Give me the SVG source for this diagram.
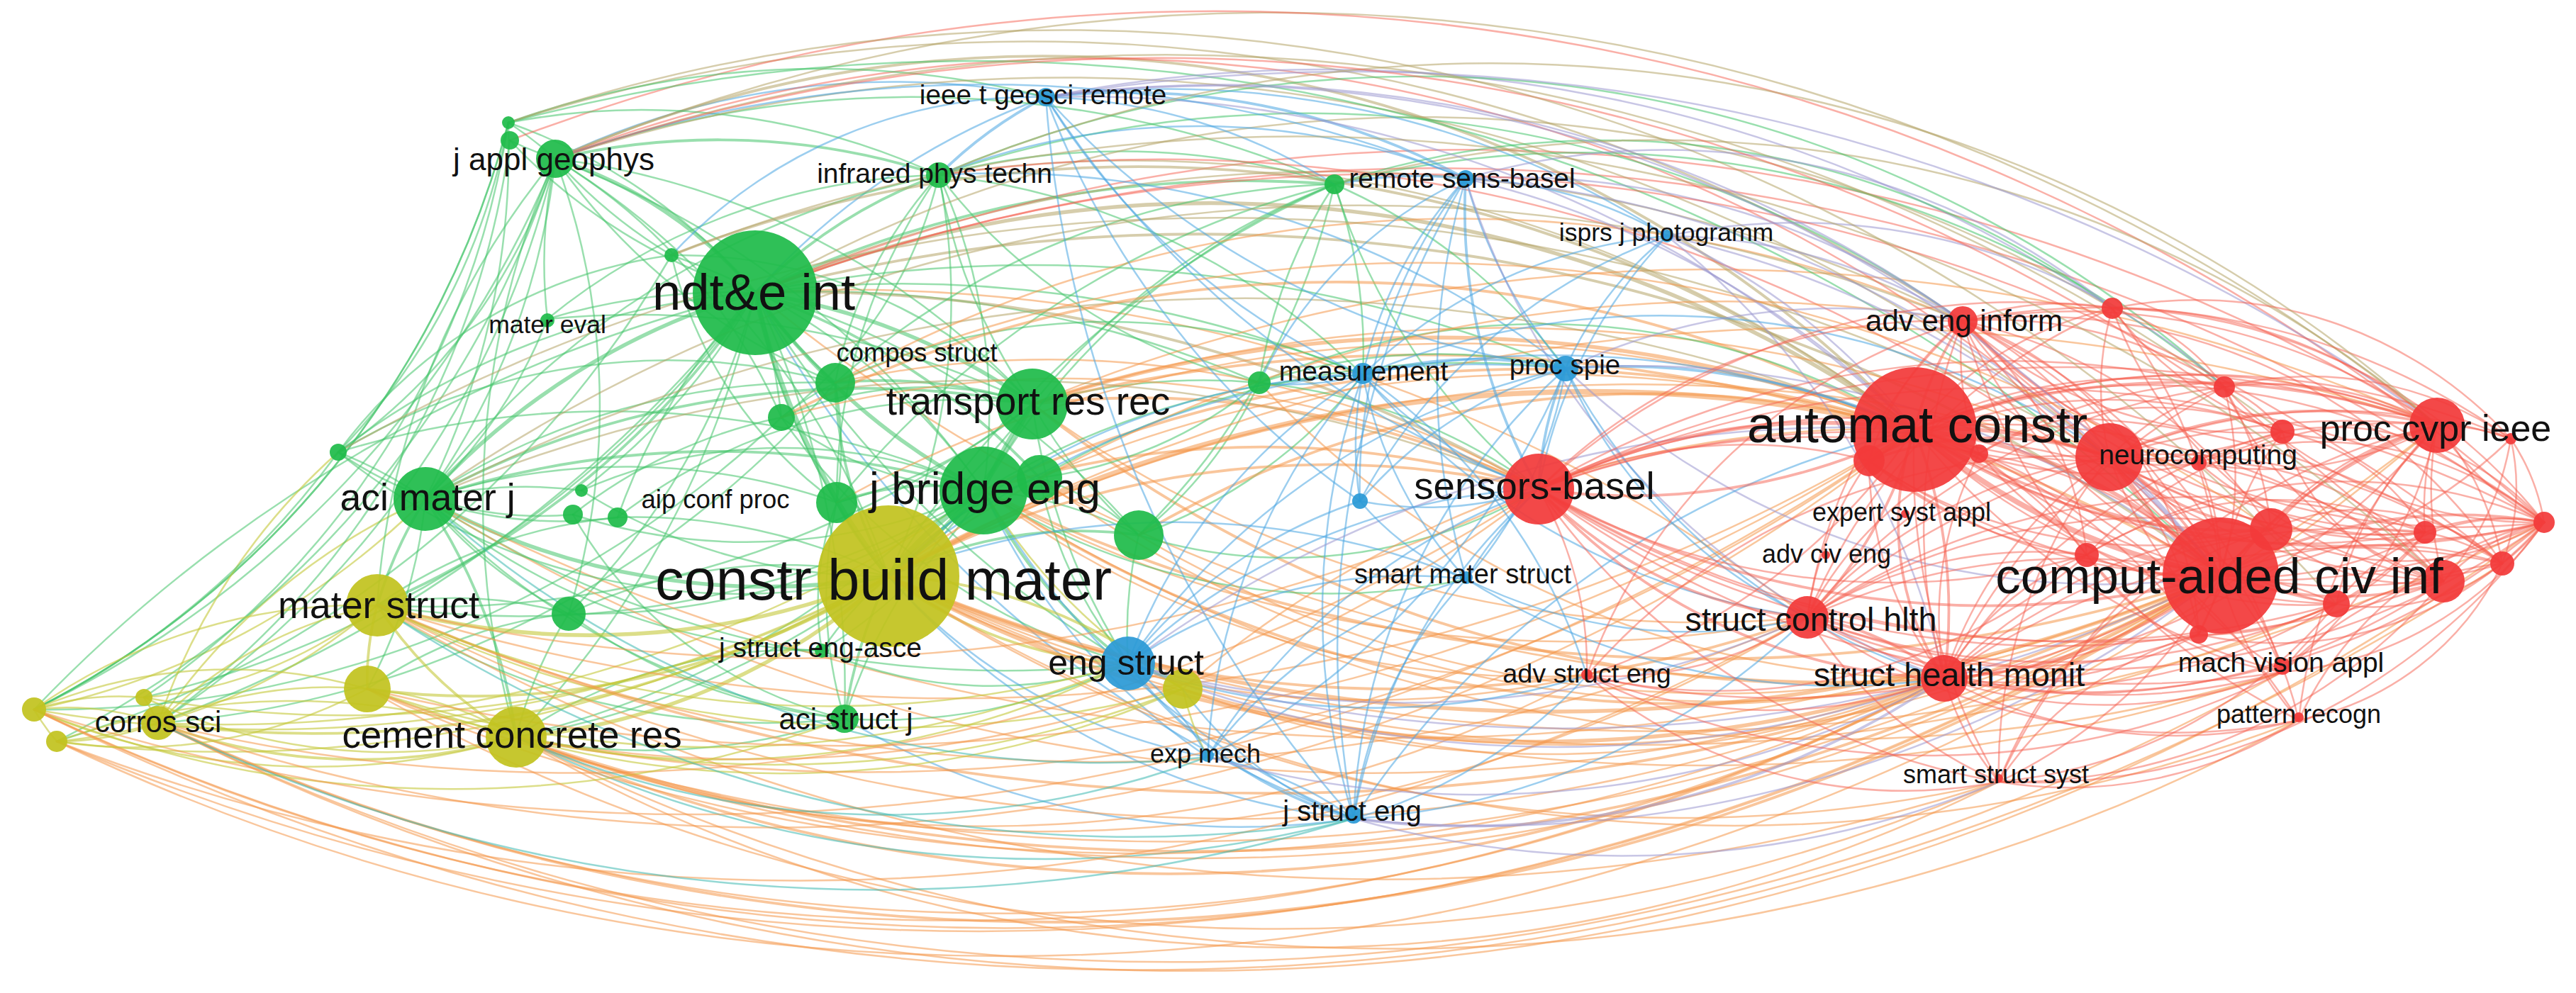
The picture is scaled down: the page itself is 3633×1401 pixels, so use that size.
<svg xmlns="http://www.w3.org/2000/svg" width="3633" height="1401" viewBox="0 0 3633 1401">
<style>
path{fill:none;stroke-linecap:round;stroke-width:2.5}
.g{stroke:#46c46c;stroke-opacity:.55}
.r{stroke:#f5604f;stroke-opacity:.5}
.b{stroke:#4aa6e2;stroke-opacity:.55}
.y{stroke:#c4c83a;stroke-opacity:.6}
.o{stroke:#f4984a;stroke-opacity:.55}
.t{stroke:#b4a468;stroke-opacity:.55}
.p{stroke:#9a98d0;stroke-opacity:.55}
.c{stroke:#3cb8b0;stroke-opacity:.55}
.w2{stroke-width:3.8}.w3{stroke-width:5.5}.w4{stroke-width:7.5}
.ng{fill:#1fbb4a;fill-opacity:.93}.nr{fill:#f23a3a;fill-opacity:.93}.nb{fill:#2b9ad6;fill-opacity:.93}.ny{fill:#c2c31f;fill-opacity:.93}
text{font-family:"Liberation Sans",Arial,sans-serif;fill:#111;text-anchor:middle}
</style>
<rect width="3633" height="1401" fill="#fff"/>
<g id="connectors">
<path class="g w3" d="M783 224A600 600 0 0 1 1065 413"/>
<path class="g" d="M717 173A800 800 0 0 1 1065 413"/>
<path class="g" d="M719 198A800 800 0 0 0 1065 413"/>
<path class="g" d="M772 450A900 900 0 0 1 1065 413"/>
<path class="g w3" d="M600 704A1000 1000 0 0 1 1065 413"/>
<path class="g" d="M477 638A1100 1100 0 0 1 1065 413"/>
<path class="g w2" d="M532 854A1200 1200 0 0 0 1065 413"/>
<path class="g w2" d="M1065 413A700 700 0 0 0 1178 540"/>
<path class="g w3" d="M1065 413A900 900 0 0 1 1456 570"/>
<path class="g w3" d="M1065 413A900 900 0 0 0 1387 692"/>
<path class="g w4" d="M1065 413A1000 1000 0 0 0 1253 813"/>
<path class="g w2" d="M1065 413A700 700 0 0 1 1324 247"/>
<path class="g" d="M1065 413A900 900 0 0 1 1102 589"/>
<path class="g" d="M1065 413A900 900 0 0 0 1180 709"/>
<path class="g w2" d="M1065 413A1000 1000 0 0 1 1466 674"/>
<path class="g" d="M1065 413A1100 1100 0 0 1 1606 755"/>
<path class="g" d="M802 866A1000 1000 0 0 0 1065 413"/>
<path class="g" d="M1065 413A1300 1300 0 0 1 1191 1014"/>
<path class="g" d="M1065 413A1600 1600 0 0 1 1776 540"/>
<path class="g w2" d="M1065 413A1600 1600 0 0 1 1882 260"/>
<path class="g" d="M1065 413A1500 1500 0 0 0 1591 936"/>
<path class="g" d="M820 692A900 900 0 0 0 1065 413"/>
<path class="g" d="M871 730A900 900 0 0 1 1065 413"/>
<path class="g" d="M728 1040A1300 1300 0 0 0 1065 413"/>
<path class="g" d="M223 1020A1900 1900 0 0 0 1065 413"/>
<path class="g" d="M48 1001A2100 2100 0 0 1 1065 413"/>
<path class="b" d="M1065 413A1000 1000 0 0 1 1475 137"/>
<path class="g" d="M1065 413A1700 1700 0 0 1 1922 529"/>
<path class="g" d="M1065 413A2000 2000 0 0 1 2208 520"/>
<path class="t w2" d="M1065 413A2100 2100 0 0 1 2170 690"/>
<path class="t w3" d="M1065 413A1700 1700 0 0 1 2700 606"/>
<path class="t w2" d="M1065 413A2400 2400 0 0 1 3132 812"/>
<path class="t" d="M1065 413A2000 2000 0 0 1 2768 453"/>
<path class="o" d="M1065 413A2200 2200 0 0 1 2549 871"/>
<path class="o" d="M1065 413A2400 2400 0 0 0 2742 957"/>
<path class="b" d="M1065 413A1600 1600 0 0 0 1909 1155"/>
<path class="r" d="M1065 413A2600 2600 0 0 1 3437 600"/>
<path class="r" d="M1065 413A2700 2700 0 0 1 3588 737"/>
<path class="g w2" d="M600 704A1300 1300 0 0 1 1456 570"/>
<path class="g" d="M783 224A1100 1100 0 0 1 1456 570"/>
<path class="g" d="M1324 247A800 800 0 0 0 1456 570"/>
<path class="g w3" d="M1387 692A600 600 0 0 1 1456 570"/>
<path class="g w3" d="M1253 813A700 700 0 0 0 1456 570"/>
<path class="g w2" d="M1178 540A700 700 0 0 1 1456 570"/>
<path class="g" d="M1180 709A700 700 0 0 0 1456 570"/>
<path class="g" d="M1456 570A700 700 0 0 0 1606 755"/>
<path class="g" d="M1456 570A900 900 0 0 1 1776 540"/>
<path class="g" d="M532 854A1400 1400 0 0 0 1456 570"/>
<path class="g" d="M728 1040A1300 1300 0 0 0 1456 570"/>
<path class="o w3" d="M1456 570A1800 1800 0 0 1 2700 606"/>
<path class="o w2" d="M1456 570A2200 2200 0 0 1 3132 812"/>
<path class="o w2" d="M1456 570A1300 1300 0 0 1 2170 690"/>
<path class="o w2" d="M1456 570A1800 1800 0 0 0 2742 957"/>
<path class="o" d="M1456 570A1600 1600 0 0 0 2549 871"/>
<path class="g" d="M1456 570A900 900 0 0 0 1591 936"/>
<path class="g" d="M1456 570A1000 1000 0 0 1 1882 260"/>
<path class="g" d="M772 450A1300 1300 0 0 1 1456 570"/>
<path class="o" d="M1456 570A2100 2100 0 0 1 2975 645"/>
<path class="o" d="M1456 570A2500 2500 0 0 1 3437 600"/>
<path class="g w2" d="M600 704A1300 1300 0 0 1 1387 692"/>
<path class="g" d="M477 638A1300 1300 0 0 1 1387 692"/>
<path class="g" d="M532 854A1300 1300 0 0 0 1387 692"/>
<path class="g" d="M728 1040A1200 1200 0 0 0 1387 692"/>
<path class="y" d="M223 1020A1900 1900 0 0 0 1387 692"/>
<path class="g" d="M783 224A1300 1300 0 0 1 1387 692"/>
<path class="g" d="M947 360A900 900 0 0 1 1387 692"/>
<path class="g w4" d="M1253 813A500 500 0 0 1 1387 692"/>
<path class="g w2" d="M1387 692A700 700 0 0 0 1591 936"/>
<path class="g" d="M1191 1014A800 800 0 0 1 1387 692"/>
<path class="g" d="M1159 918A700 700 0 0 0 1387 692"/>
<path class="g" d="M1387 692A600 600 0 0 1 1606 755"/>
<path class="g" d="M802 866A1000 1000 0 0 0 1387 692"/>
<path class="g" d="M1387 692A1100 1100 0 0 1 1922 529"/>
<path class="o w2" d="M1387 692A1300 1300 0 0 1 2170 690"/>
<path class="o w2" d="M1387 692A1800 1800 0 0 1 2700 606"/>
<path class="o w2" d="M1387 692A1800 1800 0 0 0 2742 957"/>
<path class="o" d="M1387 692A1700 1700 0 0 0 2549 871"/>
<path class="o w2" d="M1387 692A2300 2300 0 0 0 3132 812"/>
<path class="b" d="M1387 692A1100 1100 0 0 0 1909 1155"/>
<path class="b" d="M1387 692A900 900 0 0 0 1703 1068"/>
<path class="y" d="M1387 692A800 800 0 0 0 1668 972"/>
<path class="o" d="M1387 692A1300 1300 0 0 0 2238 953"/>
<path class="g" d="M600 704A1000 1000 0 0 0 783 224"/>
<path class="g" d="M600 704A1100 1100 0 0 0 717 173"/>
<path class="g" d="M600 704A700 700 0 0 0 772 450"/>
<path class="g" d="M477 638A600 600 0 0 1 600 704"/>
<path class="g w2" d="M532 854A600 600 0 0 1 600 704"/>
<path class="g" d="M518 972A700 700 0 0 0 600 704"/>
<path class="g w2" d="M600 704A800 800 0 0 1 728 1040"/>
<path class="y" d="M223 1020A900 900 0 0 1 600 704"/>
<path class="y" d="M48 1001A1100 1100 0 0 0 600 704"/>
<path class="g w3" d="M600 704A1000 1000 0 0 0 1253 813"/>
<path class="g" d="M600 704A600 600 0 0 0 802 866"/>
<path class="g" d="M600 704A1000 1000 0 0 1 1178 540"/>
<path class="g" d="M600 704A600 600 0 0 1 820 692"/>
<path class="g" d="M600 704A600 600 0 0 0 871 730"/>
<path class="g" d="M600 704A1000 1000 0 0 0 1191 1014"/>
<path class="g" d="M600 704A1500 1500 0 0 0 1591 936"/>
<path class="g" d="M600 704A1200 1200 0 0 1 1324 247"/>
<path class="g" d="M600 704A900 900 0 0 1 1180 709"/>
<path class="t" d="M600 704A2500 2500 0 0 1 2700 606"/>
<path class="o" d="M600 704A3000 3000 0 0 0 3132 812"/>
<path class="o" d="M600 704A2500 2500 0 0 0 2742 957"/>
<path class="t" d="M600 704A2000 2000 0 0 1 2170 690"/>
<path class="g" d="M717 173A500 500 0 0 1 783 224"/>
<path class="g" d="M719 198A500 500 0 0 0 783 224"/>
<path class="g w2" d="M783 224A1000 1000 0 0 1 1324 247"/>
<path class="g" d="M783 224A700 700 0 0 0 947 360"/>
<path class="g" d="M772 450A700 700 0 0 1 783 224"/>
<path class="g" d="M477 638A800 800 0 0 0 783 224"/>
<path class="g" d="M532 854A1100 1100 0 0 1 783 224"/>
<path class="g" d="M223 1020A1300 1300 0 0 0 783 224"/>
<path class="g" d="M48 1001A1500 1500 0 0 0 783 224"/>
<path class="g" d="M783 224A900 900 0 0 0 1178 540"/>
<path class="b" d="M783 224A1100 1100 0 0 1 1475 137"/>
<path class="g" d="M783 224A1500 1500 0 0 1 1882 260"/>
<path class="g" d="M783 224A1000 1000 0 0 1 802 866"/>
<path class="g" d="M783 224A800 800 0 0 1 1102 589"/>
<path class="g" d="M783 224A1100 1100 0 0 1 1253 813"/>
<path class="g" d="M728 1040A1200 1200 0 0 1 783 224"/>
<path class="t" d="M783 224A2600 2600 0 0 1 3437 600"/>
<path class="t w2" d="M783 224A1700 1700 0 0 1 2700 606"/>
<path class="r" d="M783 224A2100 2100 0 0 1 3132 812"/>
<path class="t" d="M717 173A2400 2400 0 0 1 2768 453"/>
<path class="r" d="M719 198A2800 2800 0 0 1 3588 737"/>
<path class="g" d="M717 173A1000 1000 0 0 1 1324 247"/>
<path class="g" d="M48 1001A1300 1300 0 0 0 717 173"/>
<path class="g" d="M477 638A900 900 0 0 0 717 173"/>
<path class="g" d="M717 173A1300 1300 0 0 1 1475 137"/>
<path class="g" d="M1102 589A600 600 0 0 0 1324 247"/>
<path class="g" d="M1178 540A600 600 0 0 1 1324 247"/>
<path class="g" d="M1324 247A800 800 0 0 1 1387 692"/>
<path class="g" d="M1253 813A900 900 0 0 0 1324 247"/>
<path class="g" d="M1180 709A800 800 0 0 1 1324 247"/>
<path class="b w2" d="M1324 247A600 600 0 0 1 1475 137"/>
<path class="g" d="M1324 247A1000 1000 0 0 1 1882 260"/>
<path class="g" d="M1324 247A1000 1000 0 0 1 1922 529"/>
<path class="b" d="M1324 247A1300 1300 0 0 1 2208 520"/>
<path class="g" d="M1324 247A800 800 0 0 0 1776 540"/>
<path class="g" d="M772 450A900 900 0 0 1 1324 247"/>
<path class="t" d="M1324 247A1800 1800 0 0 1 2700 606"/>
<path class="g w2" d="M1178 540A600 600 0 0 0 1253 813"/>
<path class="g" d="M1178 540A500 500 0 0 1 1180 709"/>
<path class="g" d="M1102 589A400 400 0 0 1 1178 540"/>
<path class="g" d="M518 972A600 600 0 0 1 802 866"/>
<path class="g" d="M728 1040A600 600 0 0 1 802 866"/>
<path class="g" d="M802 866A700 700 0 0 1 1253 813"/>
<path class="g" d="M802 866A800 800 0 0 0 1191 1014"/>
<path class="g" d="M532 854A600 600 0 0 1 802 866"/>
<path class="g" d="M1591 936A600 600 0 0 1 1606 755"/>
<path class="g" d="M1606 755A600 600 0 0 0 1776 540"/>
<path class="g" d="M1606 755A700 700 0 0 0 1922 529"/>
<path class="g w2" d="M1253 813A600 600 0 0 1 1606 755"/>
<path class="g" d="M1776 540A700 700 0 0 1 1882 260"/>
<path class="b" d="M1776 540A400 400 0 0 0 1922 529"/>
<path class="g" d="M1776 540A800 800 0 0 1 2208 520"/>
<path class="g" d="M1882 260A700 700 0 0 1 1922 529"/>
<path class="g" d="M1882 260A800 800 0 0 1 2208 520"/>
<path class="g" d="M1882 260A900 900 0 0 0 2170 690"/>
<path class="g" d="M1606 755A1000 1000 0 0 0 1882 260"/>
<path class="g" d="M1180 709A1300 1300 0 0 1 1882 260"/>
<path class="g" d="M1253 813A1400 1400 0 0 1 1882 260"/>
<path class="g" d="M1178 540A1100 1100 0 0 1 1882 260"/>
<path class="b w2" d="M1882 260A600 600 0 0 1 2067 252"/>
<path class="g w2" d="M1191 1014A700 700 0 0 1 1253 813"/>
<path class="g" d="M1191 1014A800 800 0 0 0 1591 936"/>
<path class="g" d="M728 1040A900 900 0 0 0 1191 1014"/>
<path class="g" d="M1180 709A600 600 0 0 0 1191 1014"/>
<path class="g" d="M532 854A1000 1000 0 0 0 1191 1014"/>
<path class="b" d="M1191 1014A1100 1100 0 0 0 1909 1155"/>
<path class="g" d="M820 692A800 800 0 0 0 1253 813"/>
<path class="g" d="M808 726A700 700 0 0 1 1102 589"/>
<path class="g" d="M871 730A800 800 0 0 1 1253 813"/>
<path class="g" d="M1159 918A500 500 0 0 1 1253 813"/>
<path class="g" d="M477 638A900 900 0 0 1 1178 540"/>
<path class="g" d="M477 638A900 900 0 0 0 1253 813"/>
<path class="g" d="M1466 674A600 600 0 0 0 1591 936"/>
<path class="g" d="M1253 813A500 500 0 0 1 1466 674"/>
<path class="g" d="M1466 674A1200 1200 0 0 1 2208 520"/>
<path class="o" d="M1466 674A1800 1800 0 0 1 2700 606"/>
<path class="g" d="M48 1001A1300 1300 0 0 0 717 173"/>
<path class="g" d="M223 1020A1200 1200 0 0 0 719 198"/>
<path class="g" d="M80 1046A1400 1400 0 0 0 783 224"/>
<path class="g" d="M203 984A1200 1200 0 0 0 717 173"/>
<path class="y" d="M223 1020A900 900 0 0 1 477 638"/>
<path class="g" d="M48 1001A1200 1200 0 0 0 477 638"/>
<path class="g" d="M80 1046A1500 1500 0 0 0 947 360"/>
<path class="g" d="M48 1001A1500 1500 0 0 0 1102 589"/>
<path class="g" d="M223 1020A1400 1400 0 0 0 1178 540"/>
<path class="g" d="M203 984A1500 1500 0 0 0 1065 413"/>
<path class="g" d="M477 638A700 700 0 0 1 947 360"/>
<path class="g" d="M820 692A700 700 0 0 1 1387 692"/>
<path class="g" d="M808 726A800 800 0 0 0 1387 692"/>
<path class="g" d="M871 730A800 800 0 0 1 1456 570"/>
<path class="g" d="M808 726A600 600 0 0 0 1191 1014"/>
<path class="g" d="M532 854A700 700 0 0 1 871 730"/>
<path class="g" d="M477 638A500 500 0 0 0 808 726"/>
<path class="g" d="M947 360A600 600 0 0 0 1180 709"/>
<path class="g" d="M947 360A700 700 0 0 1 1456 570"/>
<path class="g" d="M1102 589A500 500 0 0 0 1387 692"/>
<path class="g" d="M1102 589A500 500 0 0 1 1456 570"/>
<path class="g w2" d="M1180 709A400 400 0 0 1 1387 692"/>
<path class="g w2" d="M1180 709A500 500 0 0 0 1253 813"/>
<path class="g" d="M1466 674A400 400 0 0 1 1606 755"/>
<path class="g" d="M1466 674A600 600 0 0 0 1776 540"/>
<path class="g" d="M1387 692A1000 1000 0 0 1 1882 260"/>
<path class="g" d="M1178 540A900 900 0 0 1 1922 529"/>
<path class="g" d="M1102 589A900 900 0 0 0 1591 936"/>
<path class="g" d="M1159 918A400 400 0 0 1 1180 709"/>
<path class="g" d="M1159 918A600 600 0 0 0 1591 936"/>
<path class="g" d="M728 1040A700 700 0 0 1 1159 918"/>
<path class="g" d="M600 704A900 900 0 0 0 1159 918"/>
<path class="g" d="M1387 692A900 900 0 0 0 2068 817"/>
<path class="g" d="M1606 755A700 700 0 0 0 2170 690"/>
<path class="t" d="M783 224A2300 2300 0 0 1 2975 645"/>
<path class="g" d="M717 173A2500 2500 0 0 1 3132 812"/>
<path class="t" d="M1065 413A1900 1900 0 0 1 2979 435"/>
<path class="g" d="M1324 247A1600 1600 0 0 1 2768 453"/>
<path class="r" d="M1324 247A2200 2200 0 0 1 3132 812"/>
<path class="t w2" d="M947 360A1800 1800 0 0 1 2700 606"/>
<path class="o" d="M1178 540A1800 1800 0 0 1 2768 453"/>
<path class="p" d="M1475 137A2000 2000 0 0 1 2979 435"/>
<path class="g" d="M1882 260A1200 1200 0 0 1 2979 435"/>
<path class="g" d="M1882 260A1400 1400 0 0 1 3137 546"/>
<path class="t" d="M1882 260A1700 1700 0 0 1 3437 600"/>
<path class="g" d="M1324 247A1700 1700 0 0 1 3137 546"/>
<path class="t" d="M783 224A2600 2600 0 0 1 3219 609"/>
<path class="t" d="M600 704A2300 2300 0 0 1 2768 453"/>
<path class="t" d="M477 638A2500 2500 0 0 1 2975 645"/>
<path class="o w2" d="M1102 589A1700 1700 0 0 1 2700 606"/>
<path class="o" d="M1180 709A1800 1800 0 0 1 2700 606"/>
<path class="o w2" d="M1606 755A1400 1400 0 0 1 2700 606"/>
<path class="o" d="M1606 755A1600 1600 0 0 0 3132 812"/>
<path class="o" d="M1466 674A1600 1600 0 0 0 2742 957"/>
<path class="o" d="M1102 589A1500 1500 0 0 1 2170 690"/>
<path class="o" d="M1178 540A1400 1400 0 0 1 2170 690"/>
<path class="g" d="M1776 540A1000 1000 0 0 1 2700 606"/>
<path class="o" d="M1776 540A1300 1300 0 0 0 2742 957"/>
<path class="g" d="M1776 540A800 800 0 0 1 2170 690"/>
<path class="y w3" d="M532 854A1100 1100 0 0 0 1253 813"/>
<path class="y w3" d="M728 1040A900 900 0 0 0 1253 813"/>
<path class="y w2" d="M223 1020A1600 1600 0 0 0 1253 813"/>
<path class="y" d="M48 1001A1900 1900 0 0 0 1253 813"/>
<path class="y" d="M80 1046A1900 1900 0 0 0 1253 813"/>
<path class="y" d="M203 984A1600 1600 0 0 0 1253 813"/>
<path class="y w2" d="M518 972A1100 1100 0 0 0 1253 813"/>
<path class="y w2" d="M1253 813A700 700 0 0 1 1668 972"/>
<path class="y w2" d="M1253 813A600 600 0 0 0 1591 936"/>
<path class="o w4" d="M1253 813A2000 2000 0 0 1 2700 606"/>
<path class="o w3" d="M1253 813A2400 2400 0 0 0 3132 812"/>
<path class="o w2" d="M1253 813A1300 1300 0 0 1 2170 690"/>
<path class="o w2" d="M1253 813A1700 1700 0 0 0 2549 871"/>
<path class="o w3" d="M1253 813A1900 1900 0 0 0 2742 957"/>
<path class="o" d="M1253 813A2000 2000 0 0 1 2768 453"/>
<path class="o" d="M1253 813A2200 2200 0 0 1 2975 645"/>
<path class="o" d="M1253 813A2700 2700 0 0 1 3437 600"/>
<path class="o" d="M1253 813A2600 2600 0 0 0 3219 948"/>
<path class="o" d="M1253 813A1400 1400 0 0 0 2238 953"/>
<path class="o" d="M1253 813A2000 2000 0 0 0 2819 1103"/>
<path class="b" d="M1253 813A1000 1000 0 0 0 1909 1155"/>
<path class="b" d="M1253 813A800 800 0 0 0 1703 1068"/>
<path class="b" d="M1253 813A1300 1300 0 0 1 2208 520"/>
<path class="b" d="M1253 813A1000 1000 0 0 1 1922 529"/>
<path class="b" d="M1253 813A1100 1100 0 0 1 2068 817"/>
<path class="o" d="M1253 813A2800 2800 0 0 0 3588 737"/>
<path class="o" d="M1253 813A2500 2500 0 0 0 3295 852"/>
<path class="o" d="M1253 813A2200 2200 0 0 0 3242 1016"/>
<path class="y w2" d="M532 854A600 600 0 0 0 728 1040"/>
<path class="y w2" d="M518 972A400 400 0 0 1 532 854"/>
<path class="y" d="M223 1020A600 600 0 0 1 532 854"/>
<path class="y" d="M48 1001A800 800 0 0 1 532 854"/>
<path class="y" d="M80 1046A800 800 0 0 0 532 854"/>
<path class="y" d="M203 984A600 600 0 0 0 532 854"/>
<path class="y" d="M532 854A1600 1600 0 0 0 1668 972"/>
<path class="o" d="M532 854A2600 2600 0 0 0 2700 606"/>
<path class="o w2" d="M532 854A3100 3100 0 0 0 3132 812"/>
<path class="o" d="M532 854A2600 2600 0 0 0 2742 957"/>
<path class="o" d="M532 854A2500 2500 0 0 0 2549 871"/>
<path class="y" d="M532 854A1500 1500 0 0 0 1591 936"/>
<path class="o" d="M532 854A2400 2400 0 0 0 2170 690"/>
<path class="o" d="M532 854A2800 2800 0 0 0 2819 1103"/>
<path class="y" d="M518 972A500 500 0 0 1 728 1040"/>
<path class="y w2" d="M223 1020A800 800 0 0 0 728 1040"/>
<path class="y" d="M48 1001A1000 1000 0 0 0 728 1040"/>
<path class="y" d="M80 1046A1000 1000 0 0 1 728 1040"/>
<path class="y" d="M203 984A800 800 0 0 0 728 1040"/>
<path class="y" d="M728 1040A1400 1400 0 0 0 1668 972"/>
<path class="y" d="M728 1040A1300 1300 0 0 0 1591 936"/>
<path class="o" d="M728 1040A2500 2500 0 0 0 2700 606"/>
<path class="o w2" d="M728 1040A2900 2900 0 0 0 3132 812"/>
<path class="o w2" d="M728 1040A2300 2300 0 0 0 2742 957"/>
<path class="o" d="M728 1040A2100 2100 0 0 0 2549 871"/>
<path class="o" d="M728 1040A1800 1800 0 0 0 2170 690"/>
<path class="o" d="M728 1040A2200 2200 0 0 0 2819 1103"/>
<path class="o" d="M728 1040A1800 1800 0 0 0 2238 953"/>
<path class="c" d="M728 1040A1700 1700 0 0 0 1909 1155"/>
<path class="o" d="M728 1040A2800 2800 0 0 0 3437 600"/>
<path class="o" d="M728 1040A2700 2700 0 0 0 3242 1016"/>
<path class="y" d="M48 1001A400 400 0 0 1 223 1020"/>
<path class="y" d="M80 1046A400 400 0 0 0 223 1020"/>
<path class="y" d="M203 984A300 300 0 0 1 223 1020"/>
<path class="y" d="M223 1020A600 600 0 0 1 518 972"/>
<path class="o" d="M223 1020A2600 2600 0 0 0 2700 606"/>
<path class="o w2" d="M223 1020A3000 3000 0 0 0 3132 812"/>
<path class="o" d="M223 1020A2800 2800 0 0 0 2742 957"/>
<path class="o" d="M223 1020A2500 2500 0 0 0 2170 690"/>
<path class="o" d="M223 1020A3200 3200 0 0 0 3588 737"/>
<path class="o" d="M223 1020A3200 3200 0 0 0 3219 948"/>
<path class="y" d="M48 1001A300 300 0 0 0 80 1046"/>
<path class="y" d="M48 1001A400 400 0 0 1 203 984"/>
<path class="y" d="M48 1001A700 700 0 0 1 518 972"/>
<path class="y" d="M48 1001A1600 1600 0 0 0 1191 1014"/>
<path class="o" d="M48 1001A3200 3200 0 0 0 3132 812"/>
<path class="o" d="M48 1001A3000 3000 0 0 0 2742 957"/>
<path class="o" d="M48 1001A3000 3000 0 0 0 2700 606"/>
<path class="o" d="M48 1001A3500 3500 0 0 0 3529 795"/>
<path class="y" d="M80 1046A700 700 0 0 0 518 972"/>
<path class="o" d="M80 1046A3300 3300 0 0 0 3132 812"/>
<path class="o" d="M80 1046A2900 2900 0 0 0 2549 871"/>
<path class="o" d="M80 1046A3100 3100 0 0 0 3437 600"/>
<path class="y" d="M518 972A1600 1600 0 0 0 1668 972"/>
<path class="y" d="M518 972A1500 1500 0 0 0 1591 936"/>
<path class="o" d="M518 972A2800 2800 0 0 0 2700 606"/>
<path class="o" d="M518 972A3100 3100 0 0 0 3132 812"/>
<path class="o" d="M518 972A2700 2700 0 0 0 2742 957"/>
<path class="o" d="M518 972A2600 2600 0 0 0 2819 1103"/>
<path class="y" d="M1591 936A300 300 0 0 1 1668 972"/>
<path class="y" d="M1668 972A400 400 0 0 0 1703 1068"/>
<path class="o" d="M1668 972A1900 1900 0 0 0 3132 812"/>
<path class="o" d="M1668 972A1500 1500 0 0 0 2742 957"/>
<path class="o" d="M1668 972A1500 1500 0 0 1 2700 606"/>
<path class="o" d="M1387 692A2200 2200 0 0 0 3219 948"/>
<path class="b w2" d="M1475 137A1000 1000 0 0 1 2067 252"/>
<path class="b" d="M1475 137A1300 1300 0 0 1 2351 333"/>
<path class="b" d="M1475 137A1200 1200 0 0 0 2208 520"/>
<path class="b" d="M1475 137A1000 1000 0 0 0 1922 529"/>
<path class="b" d="M1475 137A1700 1700 0 0 0 1909 1155"/>
<path class="b" d="M1475 137A1200 1200 0 0 0 1918 707"/>
<path class="b" d="M1475 137A1400 1400 0 0 0 2170 690"/>
<path class="p" d="M1475 137A1700 1700 0 0 1 2700 606"/>
<path class="b" d="M1475 137A800 800 0 0 1 1882 260"/>
<path class="b" d="M947 360A700 700 0 0 1 1475 137"/>
<path class="p" d="M1475 137A1800 1800 0 0 1 2768 453"/>
<path class="p" d="M1475 137A2600 2600 0 0 1 3437 600"/>
<path class="b" d="M2067 252A600 600 0 0 1 2351 333"/>
<path class="b" d="M2067 252A700 700 0 0 0 2208 520"/>
<path class="b" d="M1922 529A600 600 0 0 1 2067 252"/>
<path class="b w2" d="M2067 252A800 800 0 0 0 2170 690"/>
<path class="b" d="M1918 707A700 700 0 0 1 2067 252"/>
<path class="p" d="M2067 252A1300 1300 0 0 1 2700 606"/>
<path class="b" d="M1909 1155A1300 1300 0 0 1 2067 252"/>
<path class="b" d="M2067 252A1000 1000 0 0 0 2068 817"/>
<path class="b" d="M1776 540A600 600 0 0 1 2067 252"/>
<path class="b" d="M1324 247A1000 1000 0 0 1 2067 252"/>
<path class="p" d="M2067 252A1100 1100 0 0 1 2768 453"/>
<path class="b" d="M783 224A1800 1800 0 0 1 2067 252"/>
<path class="p" d="M2067 252A1500 1500 0 0 1 3132 812"/>
<path class="p" d="M2067 252A1000 1000 0 0 1 2979 435"/>
<path class="p" d="M2067 252A1100 1100 0 0 0 2742 957"/>
<path class="b" d="M2208 520A500 500 0 0 1 2351 333"/>
<path class="b" d="M1922 529A700 700 0 0 1 2351 333"/>
<path class="p" d="M2351 333A900 900 0 0 1 2700 606"/>
<path class="b" d="M2170 690A700 700 0 0 1 2351 333"/>
<path class="p" d="M2351 333A800 800 0 0 1 2768 453"/>
<path class="p" d="M2351 333A1400 1400 0 0 1 3132 812"/>
<path class="p" d="M2351 333A1100 1100 0 0 1 2742 957"/>
<path class="b" d="M1918 707A800 800 0 0 1 2351 333"/>
<path class="p" d="M2351 333A900 900 0 0 1 3137 546"/>
<path class="b w2" d="M1922 529A600 600 0 0 1 2208 520"/>
<path class="b" d="M1922 529A600 600 0 0 0 2170 690"/>
<path class="b" d="M1918 707A500 500 0 0 1 1922 529"/>
<path class="b" d="M1922 529A600 600 0 0 0 2068 817"/>
<path class="b" d="M1591 936A800 800 0 0 1 1922 529"/>
<path class="b" d="M1909 1155A1000 1000 0 0 1 1922 529"/>
<path class="b" d="M1703 1068A900 900 0 0 1 1922 529"/>
<path class="b" d="M1922 529A1300 1300 0 0 1 2700 606"/>
<path class="b" d="M1922 529A1000 1000 0 0 0 2549 871"/>
<path class="b" d="M1922 529A800 800 0 0 1 2238 953"/>
<path class="b" d="M1922 529A1100 1100 0 0 1 2975 645"/>
<path class="b w2" d="M2170 690A500 500 0 0 1 2208 520"/>
<path class="b" d="M1918 707A600 600 0 0 1 2208 520"/>
<path class="b" d="M2068 817A600 600 0 0 0 2208 520"/>
<path class="b" d="M1909 1155A900 900 0 0 1 2208 520"/>
<path class="b" d="M2208 520A700 700 0 0 0 2549 871"/>
<path class="b w2" d="M2208 520A1000 1000 0 0 1 2700 606"/>
<path class="b" d="M2208 520A900 900 0 0 0 2742 957"/>
<path class="b" d="M1591 936A1000 1000 0 0 1 2208 520"/>
<path class="p" d="M2208 520A900 900 0 0 1 2768 453"/>
<path class="b" d="M1703 1068A1100 1100 0 0 0 2208 520"/>
<path class="p" d="M2208 520A1300 1300 0 0 1 3132 812"/>
<path class="p" d="M2208 520A1100 1100 0 0 0 3132 812"/>
<path class="b w2" d="M1591 936A600 600 0 0 0 1909 1155"/>
<path class="b" d="M1591 936A400 400 0 0 1 1703 1068"/>
<path class="b" d="M1591 936A700 700 0 0 1 2068 817"/>
<path class="b" d="M1591 936A700 700 0 0 1 1918 707"/>
<path class="b" d="M1591 936A900 900 0 0 1 2170 690"/>
<path class="p" d="M1591 936A1400 1400 0 0 0 2549 871"/>
<path class="p" d="M1591 936A1600 1600 0 0 0 2742 957"/>
<path class="p" d="M1591 936A1700 1700 0 0 1 2700 606"/>
<path class="b" d="M1591 936A1000 1000 0 0 0 2238 953"/>
<path class="p" d="M1591 936A2100 2100 0 0 0 3132 812"/>
<path class="b" d="M1703 1068A500 500 0 0 1 1909 1155"/>
<path class="b" d="M1909 1155A600 600 0 0 1 2068 817"/>
<path class="p w2" d="M1909 1155A1200 1200 0 0 0 2742 957"/>
<path class="b" d="M1909 1155A1000 1000 0 0 0 2549 871"/>
<path class="p" d="M1909 1155A1700 1700 0 0 0 3132 812"/>
<path class="b" d="M1909 1155A1300 1300 0 0 1 2700 606"/>
<path class="b" d="M1909 1155A800 800 0 0 1 2170 690"/>
<path class="b" d="M1909 1155A700 700 0 0 0 2238 953"/>
<path class="c" d="M532 854A1900 1900 0 0 0 1909 1155"/>
<path class="c" d="M223 1020A2300 2300 0 0 0 1909 1155"/>
<path class="b" d="M1668 972A500 500 0 0 0 1909 1155"/>
<path class="p" d="M1909 1155A1400 1400 0 0 0 2819 1103"/>
<path class="b" d="M1703 1068A700 700 0 0 1 2068 817"/>
<path class="b" d="M1703 1068A900 900 0 0 1 2170 690"/>
<path class="p" d="M1703 1068A1400 1400 0 0 0 2742 957"/>
<path class="c" d="M728 1040A1300 1300 0 0 0 1703 1068"/>
<path class="c" d="M600 704A1400 1400 0 0 0 1703 1068"/>
<path class="b" d="M2068 817A600 600 0 0 1 2170 690"/>
<path class="b" d="M2068 817A700 700 0 0 0 2549 871"/>
<path class="b" d="M1918 707A400 400 0 0 0 2068 817"/>
<path class="b" d="M2068 817A1000 1000 0 0 0 2742 957"/>
<path class="b" d="M1918 707A500 500 0 0 0 2170 690"/>
<path class="r w3" d="M2170 690A900 900 0 0 1 2700 606"/>
<path class="r w2" d="M2170 690A900 900 0 0 0 2700 606"/>
<path class="r w2" d="M2700 606A500 500 0 0 1 2768 453"/>
<path class="r w3" d="M2700 606A700 700 0 0 1 2975 645"/>
<path class="r w4" d="M2700 606A900 900 0 0 0 3132 812"/>
<path class="r w3" d="M2700 606A700 700 0 0 1 3132 812"/>
<path class="r w2" d="M2700 606A1100 1100 0 0 1 3437 600"/>
<path class="r w2" d="M2549 871A600 600 0 0 0 2700 606"/>
<path class="r w2" d="M2700 606A700 700 0 0 1 2742 957"/>
<path class="r w2" d="M2700 606A400 400 0 0 0 2742 957"/>
<path class="r" d="M2700 606A900 900 0 0 0 2819 1103"/>
<path class="r" d="M2700 606A1000 1000 0 0 0 3219 948"/>
<path class="r" d="M2700 606A1000 1000 0 0 1 3242 1016"/>
<path class="r" d="M2238 953A900 900 0 0 0 2700 606"/>
<path class="r" d="M2700 606A500 500 0 0 1 2979 435"/>
<path class="r" d="M2700 606A700 700 0 0 1 3137 546"/>
<path class="r" d="M2700 606A800 800 0 0 0 3219 609"/>
<path class="r" d="M2700 606A1100 1100 0 0 1 3541 619"/>
<path class="r w2" d="M2700 606A1200 1200 0 0 0 3588 737"/>
<path class="r" d="M2700 606A900 900 0 0 1 3588 737"/>
<path class="r" d="M2700 606A1000 1000 0 0 0 3420 751"/>
<path class="r" d="M2700 606A1100 1100 0 0 1 3529 795"/>
<path class="r w2" d="M2700 606A800 800 0 0 0 3203 747"/>
<path class="r" d="M2700 606A1000 1000 0 0 1 3446 820"/>
<path class="r" d="M2700 606A900 900 0 0 0 3295 852"/>
<path class="r" d="M2700 606A800 800 0 0 1 3101 895"/>
<path class="r" d="M2636 650A300 300 0 0 0 2700 606"/>
<path class="r" d="M2700 606A300 300 0 0 1 2791 640"/>
<path class="r" d="M2700 606A600 600 0 0 0 3101 653"/>
<path class="r" d="M2700 606A500 500 0 0 1 2943 783"/>
<path class="r w2" d="M2170 690A1300 1300 0 0 0 3132 812"/>
<path class="r" d="M2768 453A800 800 0 0 1 3132 812"/>
<path class="r w2" d="M2975 645A600 600 0 0 0 3132 812"/>
<path class="r w2" d="M2975 645A500 500 0 0 1 3132 812"/>
<path class="r w2" d="M3132 812A700 700 0 0 1 3437 600"/>
<path class="r" d="M2549 871A900 900 0 0 1 3132 812"/>
<path class="r w2" d="M2742 957A700 700 0 0 0 3132 812"/>
<path class="r" d="M2819 1103A700 700 0 0 0 3132 812"/>
<path class="r" d="M3132 812A400 400 0 0 1 3219 948"/>
<path class="r" d="M3132 812A500 500 0 0 0 3242 1016"/>
<path class="r" d="M2238 953A1200 1200 0 0 0 3132 812"/>
<path class="r" d="M2979 435A700 700 0 0 1 3132 812"/>
<path class="r" d="M3132 812A500 500 0 0 0 3137 546"/>
<path class="r" d="M3132 812A500 500 0 0 1 3219 609"/>
<path class="r" d="M3132 812A700 700 0 0 0 3541 619"/>
<path class="r w2" d="M3132 812A700 700 0 0 1 3588 737"/>
<path class="r" d="M3132 812A500 500 0 0 0 3420 751"/>
<path class="r" d="M3132 812A600 600 0 0 1 3529 795"/>
<path class="r w2" d="M3132 812A300 300 0 0 1 3203 747"/>
<path class="r w2" d="M3132 812A500 500 0 0 0 3446 820"/>
<path class="r" d="M3132 812A400 400 0 0 1 3295 852"/>
<path class="r" d="M3101 895A300 300 0 0 0 3132 812"/>
<path class="r" d="M2636 650A800 800 0 0 0 3132 812"/>
<path class="r" d="M2791 640A600 600 0 0 1 3132 812"/>
<path class="r" d="M3101 653A400 400 0 0 1 3132 812"/>
<path class="r" d="M2943 783A400 400 0 0 0 3132 812"/>
<path class="r w2" d="M2975 645A700 700 0 0 1 3437 600"/>
<path class="r" d="M3137 546A500 500 0 0 1 3437 600"/>
<path class="r" d="M3219 609A400 400 0 0 0 3437 600"/>
<path class="r" d="M3437 600A300 300 0 0 1 3541 619"/>
<path class="r" d="M3437 600A400 400 0 0 0 3588 737"/>
<path class="r" d="M3420 751A400 400 0 0 1 3437 600"/>
<path class="r" d="M3437 600A400 400 0 0 1 3529 795"/>
<path class="r" d="M3203 747A500 500 0 0 1 3437 600"/>
<path class="r" d="M3437 600A500 500 0 0 0 3446 820"/>
<path class="r" d="M3295 852A500 500 0 0 1 3437 600"/>
<path class="r" d="M3219 948A600 600 0 0 0 3437 600"/>
<path class="r" d="M3242 1016A700 700 0 0 1 3437 600"/>
<path class="r" d="M2170 690A1700 1700 0 0 1 3437 600"/>
<path class="r" d="M2768 453A900 900 0 0 1 3437 600"/>
<path class="r" d="M2742 957A1000 1000 0 0 0 3437 600"/>
<path class="r" d="M2979 435A700 700 0 0 1 3437 600"/>
<path class="r" d="M3101 653A500 500 0 0 0 3437 600"/>
<path class="r" d="M2549 871A1200 1200 0 0 1 3437 600"/>
<path class="r w2" d="M2170 690A600 600 0 0 0 2549 871"/>
<path class="r w2" d="M2170 690A800 800 0 0 0 2742 957"/>
<path class="r" d="M2170 690A800 800 0 0 1 2768 453"/>
<path class="r" d="M2170 690A1100 1100 0 0 1 2975 645"/>
<path class="r" d="M2170 690A1000 1000 0 0 0 2819 1103"/>
<path class="r" d="M2170 690A500 500 0 0 1 2238 953"/>
<path class="r" d="M2170 690A1400 1400 0 0 0 3219 948"/>
<path class="r" d="M2170 690A700 700 0 0 1 2636 650"/>
<path class="r" d="M2170 690A1000 1000 0 0 0 2943 783"/>
<path class="r" d="M2170 690A1000 1000 0 0 1 2979 435"/>
<path class="r" d="M2170 690A1300 1300 0 0 1 3203 747"/>
<path class="r" d="M2170 690A1400 1400 0 0 0 3295 852"/>
<path class="r" d="M2170 690A1600 1600 0 0 1 3588 737"/>
<path class="r" d="M2170 690A1500 1500 0 0 0 3446 820"/>
<path class="r" d="M2170 690A1300 1300 0 0 1 3137 546"/>
<path class="r" d="M2170 690A1100 1100 0 0 1 2791 640"/>
<path class="r" d="M2170 690A1300 1300 0 0 0 3101 895"/>
<path class="r w2" d="M2549 871A400 400 0 0 1 2742 957"/>
<path class="r" d="M2549 871A600 600 0 0 0 2819 1103"/>
<path class="r" d="M2238 953A500 500 0 0 0 2549 871"/>
<path class="r" d="M2549 871A700 700 0 0 1 2975 645"/>
<path class="r" d="M2549 871A900 900 0 0 0 3219 948"/>
<path class="r" d="M2549 871A600 600 0 0 1 2943 783"/>
<path class="r" d="M2549 871A900 900 0 0 1 3203 747"/>
<path class="r" d="M2549 871A1000 1000 0 0 0 3295 852"/>
<path class="r" d="M2549 871A700 700 0 0 1 2768 453"/>
<path class="r" d="M2549 871A800 800 0 0 1 2979 435"/>
<path class="r" d="M2549 871A500 500 0 0 1 2636 650"/>
<path class="r" d="M2549 871A1100 1100 0 0 0 3588 737"/>
<path class="r" d="M2549 871A1000 1000 0 0 1 3420 751"/>
<path class="r" d="M2549 871A900 900 0 0 1 3137 546"/>
<path class="r" d="M2549 871A700 700 0 0 0 3101 895"/>
<path class="r" d="M2549 871A900 900 0 0 0 3242 1016"/>
<path class="r" d="M2549 871A500 500 0 0 1 2791 640"/>
<path class="r" d="M2742 957A400 400 0 0 0 2819 1103"/>
<path class="r" d="M2238 953A700 700 0 0 0 2742 957"/>
<path class="r" d="M2742 957A600 600 0 0 1 2975 645"/>
<path class="r" d="M2742 957A700 700 0 0 0 3219 948"/>
<path class="r" d="M2742 957A700 700 0 0 0 3242 1016"/>
<path class="r" d="M2742 957A700 700 0 0 1 3203 747"/>
<path class="r" d="M2742 957A900 900 0 0 0 3446 820"/>
<path class="r" d="M2742 957A800 800 0 0 0 3295 852"/>
<path class="r" d="M2742 957A600 600 0 0 0 3101 895"/>
<path class="r" d="M2742 957A400 400 0 0 1 2943 783"/>
<path class="r" d="M2742 957A800 800 0 0 1 2768 453"/>
<path class="r" d="M2742 957A1000 1000 0 0 0 3588 737"/>
<path class="r" d="M2742 957A1000 1000 0 0 1 3529 795"/>
<path class="r" d="M2742 957A900 900 0 0 1 3137 546"/>
<path class="r" d="M2742 957A900 900 0 0 1 3420 751"/>
<path class="r" d="M2742 957A800 800 0 0 1 3219 609"/>
<path class="r" d="M2742 957A500 500 0 0 1 2791 640"/>
<path class="r" d="M2636 650A500 500 0 0 0 2742 957"/>
<path class="r" d="M2238 953A900 900 0 0 1 2975 645"/>
<path class="r" d="M2238 953A1100 1100 0 0 0 3219 948"/>
<path class="r" d="M2238 953A800 800 0 0 1 2768 453"/>
<path class="r" d="M2238 953A700 700 0 0 0 2819 1103"/>
<path class="r" d="M2238 953A800 800 0 0 0 2943 783"/>
<path class="r" d="M2975 645A400 400 0 0 1 2979 435"/>
<path class="r" d="M2975 645A400 400 0 0 1 3137 546"/>
<path class="r" d="M2975 645A400 400 0 0 0 3219 609"/>
<path class="r" d="M2975 645A800 800 0 0 1 3541 619"/>
<path class="r" d="M2975 645A800 800 0 0 0 3588 737"/>
<path class="r" d="M2975 645A700 700 0 0 0 3420 751"/>
<path class="r" d="M2975 645A800 800 0 0 1 3529 795"/>
<path class="r w2" d="M2975 645A400 400 0 0 0 3203 747"/>
<path class="r" d="M2975 645A700 700 0 0 1 3446 820"/>
<path class="r" d="M2975 645A500 500 0 0 0 3295 852"/>
<path class="r" d="M2975 645A500 500 0 0 1 3101 895"/>
<path class="r" d="M2975 645A600 600 0 0 0 3219 948"/>
<path class="r" d="M2975 645A600 600 0 0 1 3242 1016"/>
<path class="r" d="M2768 453A500 500 0 0 1 2975 645"/>
<path class="r" d="M2975 645A300 300 0 0 0 3101 653"/>
<path class="r" d="M2819 1103A700 700 0 0 1 2975 645"/>
<path class="r" d="M2768 453A400 400 0 0 1 2979 435"/>
<path class="r" d="M2768 453A600 600 0 0 1 3137 546"/>
<path class="r" d="M2768 453A600 600 0 0 0 3219 609"/>
<path class="r" d="M2768 453A1000 1000 0 0 1 3541 619"/>
<path class="r" d="M2768 453A1000 1000 0 0 0 3588 737"/>
<path class="r" d="M2768 453A900 900 0 0 0 3420 751"/>
<path class="r" d="M2768 453A700 700 0 0 1 3203 747"/>
<path class="r" d="M2768 453A900 900 0 0 0 3446 820"/>
<path class="r" d="M2768 453A700 700 0 0 0 3295 852"/>
<path class="r" d="M2636 650A400 400 0 0 1 2768 453"/>
<path class="r" d="M2768 453A400 400 0 0 0 2791 640"/>
<path class="r" d="M2768 453A500 500 0 0 1 2943 783"/>
<path class="r" d="M2768 453A700 700 0 0 0 3101 653"/>
<path class="r" d="M2768 453A500 500 0 0 1 3101 895"/>
<path class="r" d="M2768 453A800 800 0 0 1 3219 948"/>
<path class="r" d="M2768 453A900 900 0 0 0 3242 1016"/>
<path class="r" d="M2768 453A800 800 0 0 1 3529 795"/>
<path class="r" d="M2819 1103A900 900 0 0 1 3437 600"/>
<path class="r" d="M2819 1103A900 900 0 0 0 3588 737"/>
<path class="r" d="M2819 1103A800 800 0 0 0 3446 820"/>
<path class="r" d="M2819 1103A600 600 0 0 1 3203 747"/>
<path class="r" d="M2819 1103A500 500 0 0 1 3101 895"/>
<path class="r" d="M2819 1103A600 600 0 0 0 3242 1016"/>
<path class="r" d="M2819 1103A700 700 0 0 0 3295 852"/>
<path class="r" d="M2636 650A700 700 0 0 1 3219 609"/>
<path class="r" d="M2636 650A900 900 0 0 1 3437 600"/>
<path class="r" d="M2636 650A1000 1000 0 0 0 3588 737"/>
<path class="r" d="M2636 650A700 700 0 0 0 3203 747"/>
<path class="r w2" d="M2636 650A500 500 0 0 1 2975 645"/>
<path class="r" d="M2636 650A600 600 0 0 0 2943 783"/>
<path class="r" d="M2791 640A700 700 0 0 1 3437 600"/>
<path class="r" d="M2791 640A500 500 0 0 1 3219 609"/>
<path class="r" d="M2791 640A600 600 0 0 0 3295 852"/>
<path class="r" d="M2791 640A800 800 0 0 0 3529 795"/>
<path class="r" d="M2943 783A600 600 0 0 1 3437 600"/>
<path class="r" d="M2943 783A400 400 0 0 0 3219 948"/>
<path class="r" d="M2943 783A700 700 0 0 1 3588 737"/>
<path class="r" d="M2943 783A500 500 0 0 1 3420 751"/>
<path class="r" d="M3101 653A500 500 0 0 1 3588 737"/>
<path class="r" d="M3101 653A400 400 0 0 0 3420 751"/>
<path class="r" d="M3101 653A400 400 0 0 1 3446 820"/>
<path class="r" d="M3101 895A500 500 0 0 1 3437 600"/>
<path class="r" d="M3101 895A500 500 0 0 0 3588 737"/>
<path class="r" d="M3101 895A400 400 0 0 0 3420 751"/>
<path class="r" d="M3137 546A600 600 0 0 0 3588 737"/>
<path class="r" d="M3137 546A500 500 0 0 0 3446 820"/>
<path class="r" d="M3137 546A500 500 0 0 1 3203 747"/>
<path class="r" d="M2979 435A800 800 0 0 1 3588 737"/>
<path class="r" d="M2979 435A600 600 0 0 0 3446 820"/>
<path class="r" d="M2979 435A500 500 0 0 0 3219 609"/>
<path class="r" d="M2979 435A600 600 0 0 1 3541 619"/>
<path class="r" d="M3219 609A300 300 0 0 0 3446 820"/>
<path class="r" d="M3219 609A300 300 0 0 1 3420 751"/>
<path class="r" d="M3203 747A300 300 0 0 1 3529 795"/>
<path class="r" d="M3203 747A300 300 0 0 0 3446 820"/>
<path class="r" d="M3295 852A300 300 0 0 1 3588 737"/>
<path class="r" d="M3295 852A300 300 0 0 0 3420 751"/>
<path class="r" d="M3541 619A300 300 0 0 1 3588 737"/>
<path class="r" d="M3529 795A300 300 0 0 0 3588 737"/>
<path class="r" d="M3420 751A300 300 0 0 1 3529 795"/>
<path class="r" d="M3446 820A400 400 0 0 0 3541 619"/>
<path class="r" d="M3446 820A300 300 0 0 1 3588 737"/>
<path class="r" d="M3295 852A300 300 0 0 0 3529 795"/>
<path class="r" d="M3420 751A300 300 0 0 1 3588 737"/>
<path class="r" d="M3137 546A200 200 0 0 1 3219 609"/>
<path class="r" d="M2979 435A300 300 0 0 1 3137 546"/>
<path class="r" d="M3219 948A300 300 0 0 1 3446 820"/>
<path class="r" d="M3242 1016A400 400 0 0 0 3529 795"/>
<path class="r" d="M3242 1016A500 500 0 0 1 3588 737"/>
<path class="r" d="M3529 795A300 300 0 0 0 3541 619"/>
<path class="r" d="M3219 948A500 500 0 0 0 3588 737"/>
<path class="r" d="M3219 948A500 500 0 0 1 3529 795"/>
<path class="r" d="M3219 609A400 400 0 0 1 3588 737"/>
<path class="r" d="M3137 546A500 500 0 0 1 3541 619"/>
<path class="r" d="M3203 747A400 400 0 0 0 3588 737"/>
<path class="t" d="M947 360A2400 2400 0 0 1 3446 820"/>
<path class="r" d="M1065 413A2500 2500 0 0 1 3529 795"/>
<path class="t" d="M1324 247A2000 2000 0 0 1 3437 600"/>
<path class="p" d="M1475 137A1800 1800 0 0 1 3132 812"/>
<path class="o" d="M1178 540A2100 2100 0 0 1 3203 747"/>
<path class="r" d="M783 224A2600 2600 0 0 1 3446 820"/>
<path class="t" d="M717 173A2400 2400 0 0 1 3295 852"/>
</g>
<g id="node-n9"><circle class="ng" cx="717" cy="173" r="9"/></g>
<g id="node-n10"><circle class="ng" cx="719" cy="198" r="13"/></g>
<g id="node-n11"><circle class="ng" cx="947" cy="360" r="10"/></g>
<g id="node-n12"><circle class="ng" cx="1102" cy="589" r="19"/></g>
<g id="node-n13"><circle class="ng" cx="1180" cy="709" r="29"/></g>
<g id="node-n14"><circle class="ng" cx="1466" cy="674" r="32"/></g>
<g id="node-n15"><circle class="ng" cx="1606" cy="755" r="35"/></g>
<g id="node-n16"><circle class="ng" cx="802" cy="866" r="24"/></g>
<g id="node-n17"><circle class="ng" cx="477" cy="638" r="12"/></g>
<g id="node-n18"><circle class="ng" cx="820" cy="692" r="9"/></g>
<g id="node-n19"><circle class="ng" cx="808" cy="726" r="14"/></g>
<g id="node-n23"><circle class="ng" cx="1776" cy="540" r="16"/></g>
<g id="node-n24"><circle class="ng" cx="1882" cy="260" r="14"/></g>
<g id="node-y3"><circle class="ny" cx="518" cy="972" r="33"/></g>
<g id="node-y6"><circle class="ny" cx="48" cy="1001" r="17"/></g>
<g id="node-y7"><circle class="ny" cx="80" cy="1046" r="15"/></g>
<g id="node-y8"><circle class="ny" cx="203" cy="984" r="12"/></g>
<g id="node-y9"><circle class="ny" cx="1668" cy="972" r="28"/></g>
<g id="node-b8"><circle class="nb" cx="1918" cy="707" r="11"/></g>
<g id="node-r13"><circle class="nr" cx="2979" cy="435" r="15"/></g>
<g id="node-r14"><circle class="nr" cx="3137" cy="546" r="15"/></g>
<g id="node-r15"><circle class="nr" cx="3219" cy="609" r="17"/></g>
<g id="node-r16"><circle class="nr" cx="3541" cy="619" r="8"/></g>
<g id="node-r17"><circle class="nr" cx="3588" cy="737" r="15"/></g>
<g id="node-r18"><circle class="nr" cx="3420" cy="751" r="16"/></g>
<g id="node-r19"><circle class="nr" cx="3529" cy="795" r="17"/></g>
<g id="node-r20"><circle class="nr" cx="3203" cy="747" r="30"/></g>
<g id="node-r21"><circle class="nr" cx="3446" cy="820" r="30"/></g>
<g id="node-r22"><circle class="nr" cx="3295" cy="852" r="19"/></g>
<g id="node-r23"><circle class="nr" cx="3101" cy="895" r="13"/></g>
<g id="node-r24"><circle class="nr" cx="2636" cy="650" r="22"/></g>
<g id="node-r25"><circle class="nr" cx="2791" cy="640" r="13"/></g>
<g id="node-r26"><circle class="nr" cx="3101" cy="653" r="11"/></g>
<g id="node-r27"><circle class="nr" cx="2943" cy="783" r="17"/></g>
<g id="node-constr-build-mater"><circle class="ny" cx="1253" cy="813" r="100"/><text x="1246" y="846" font-size="81">constr build mater</text></g>
<g id="node-ndte-int"><circle class="ng" cx="1065" cy="413" r="88"/><text x="1063" y="437" font-size="72.5">ndt&amp;e int</text></g>
<g id="node-neurocomputing"><circle class="nr" cx="2975" cy="645" r="48"/><text x="3100" y="655" font-size="39">neurocomputing</text></g>
<g id="node-automat-constr"><circle class="nr" cx="2700" cy="606" r="88"/><text x="2704" y="624" font-size="72.6">automat constr</text></g>
<g id="node-comput-aided-civ-inf"><circle class="nr" cx="3132" cy="812" r="82"/><text x="3130" y="837" font-size="71">comput-aided civ inf</text></g>
<g id="node-j-bridge-eng"><circle class="ng" cx="1387" cy="692" r="62"/><text x="1389" y="711" font-size="62.4">j bridge eng</text></g>
<g id="node-transport-res-rec"><circle class="ng" cx="1456" cy="570" r="50"/><text x="1450" y="585" font-size="55">transport res rec</text></g>
<g id="node-compos-struct"><circle class="ng" cx="1178" cy="540" r="28"/><text x="1293" y="510" font-size="36.5">compos struct</text></g>
<g id="node-aip-conf-proc"><circle class="ng" cx="871" cy="730" r="14"/><text x="1009" y="717" font-size="36.5">aip conf proc</text></g>
<g id="node-aci-mater-j"><circle class="ng" cx="600" cy="704" r="45"/><text x="603" y="720" font-size="53.6">aci mater j</text></g>
<g id="node-j-appl-geophys"><circle class="ng" cx="783" cy="224" r="27"/><text x="781" y="240" font-size="44">j appl geophys</text></g>
<g id="node-mater-eval"><circle class="ng" cx="772" cy="452" r="10"/><text x="772" y="470" font-size="35.5">mater eval</text></g>
<g id="node-infrared-phys-techn"><circle class="ng" cx="1324" cy="247" r="18"/><text x="1318" y="258" font-size="39">infrared phys techn</text></g>
<g id="node-aci-struct-j"><circle class="ng" cx="1191" cy="1014" r="20"/><text x="1193" y="1029" font-size="42">aci struct j</text></g>
<g id="node-j-struct-eng-asce"><circle class="ng" cx="1159" cy="918" r="10"/><text x="1157" y="927" font-size="39">j struct eng-asce</text></g>
<g id="node-remote-sens-basel"><circle class="nb" cx="2067" cy="252" r="12"/><text x="2062" y="265" font-size="38.8">remote sens-basel</text></g>
<g id="node-mater-struct"><circle class="ny" cx="532" cy="854" r="44"/><text x="534" y="872" font-size="53.8">mater struct</text></g>
<g id="node-cement-concrete-res"><circle class="ny" cx="728" cy="1040" r="43"/><text x="722" y="1055" font-size="52.9">cement concrete res</text></g>
<g id="node-corros-sci"><circle class="ny" cx="223" cy="1020" r="24"/><text x="223" y="1033" font-size="41.7">corros sci</text></g>
<g id="node-eng-struct"><circle class="nb" cx="1591" cy="936" r="38"/><text x="1588" y="952" font-size="50">eng struct</text></g>
<g id="node-exp-mech"><circle class="nb" cx="1703" cy="1066" r="9"/><text x="1700" y="1076" font-size="36">exp mech</text></g>
<g id="node-j-struct-eng"><circle class="nb" cx="1909" cy="1150" r="12"/><text x="1907" y="1158" font-size="40">j struct eng</text></g>
<g id="node-ieee-t-geosci-remote"><circle class="nb" cx="1475" cy="137" r="13"/><text x="1471" y="147" font-size="38.7">ieee t geosci remote</text></g>
<g id="node-isprs-j-photogramm"><circle class="nb" cx="2351" cy="333" r="9"/><text x="2350" y="340" font-size="35.6">isprs j photogramm</text></g>
<g id="node-measurement"><circle class="nb" cx="1922" cy="527" r="15"/><text x="1923" y="537" font-size="39">measurement</text></g>
<g id="node-proc-spie"><circle class="nb" cx="2208" cy="520" r="18"/><text x="2207" y="528" font-size="38.6">proc spie</text></g>
<g id="node-smart-mater-struct"><circle class="nb" cx="2068" cy="815" r="9"/><text x="2063" y="823" font-size="38">smart mater struct</text></g>
<g id="node-sensors-basel"><circle class="nr" cx="2170" cy="690" r="50"/><text x="2164" y="704" font-size="54.5">sensors-basel</text></g>
<g id="node-adv-eng-inform"><circle class="nr" cx="2768" cy="453" r="21"/><text x="2770" y="467" font-size="42">adv eng inform</text></g>
<g id="node-proc-cvpr-ieee"><circle class="nr" cx="3437" cy="600" r="39"/><text x="3435" y="622" font-size="52">proc cvpr ieee</text></g>
<g id="node-expert-syst-appl"><circle class="nr" cx="2687" cy="725" r="6"/><text x="2682" y="735" font-size="36">expert syst appl</text></g>
<g id="node-adv-civ-eng"><circle class="nr" cx="2575" cy="783" r="6"/><text x="2576" y="794" font-size="36">adv civ eng</text></g>
<g id="node-struct-control-hlth"><circle class="nr" cx="2549" cy="871" r="30"/><text x="2554" y="890" font-size="46.6">struct control hlth</text></g>
<g id="node-struct-health-monit"><circle class="nr" cx="2742" cy="957" r="33"/><text x="2749" y="968" font-size="46.8">struct health monit</text></g>
<g id="node-adv-struct-eng"><circle class="nr" cx="2238" cy="952" r="8"/><text x="2238" y="963" font-size="37.8">adv struct eng</text></g>
<g id="node-mach-vision-appl"><circle class="nr" cx="3219" cy="940" r="12"/><text x="3217" y="948" font-size="39">mach vision appl</text></g>
<g id="node-pattern-recogn"><circle class="nr" cx="3242" cy="1012" r="7"/><text x="3242" y="1020" font-size="36">pattern recogn</text></g>
<g id="node-smart-struct-syst"><circle class="nr" cx="2819" cy="1098" r="6"/><text x="2815" y="1105" font-size="36">smart struct syst</text></g>
</svg>
